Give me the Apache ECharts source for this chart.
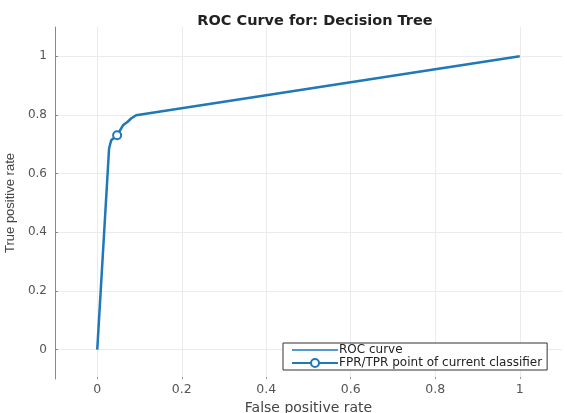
<!DOCTYPE html>
<html><head><meta charset="utf-8">
<script src="https://cdn.jsdelivr.net/npm/echarts@6/dist/echarts.min.js"></script>
<style>html,body{margin:0;padding:0;background:#fff}#c{width:567px;height:413px}</style>
</head><body><div id="c"></div>
<script>
const rocFpr = [0, 0.028, 0.033, 0.047, 0.061, 0.072, 0.080, 0.092, 1];
const rocTpr = [0, 0.686, 0.714, 0.731, 0.765, 0.777, 0.788, 0.799, 1];
const pointFpr = [0.047];
const pointTpr = [0.731];
const ticks = [0, 0.2, 0.4, 0.6, 0.8, 1];
const titleText = 'ROC Curve for: Decision Tree';
const xName = 'False positive rate';
const yName = 'True positive rate';
const seriesNames = ['ROC curve', 'FPR/TPR point of current classifier'];

const blue = '#1f78b8';
const font = 'Liberation Sans, Arial, sans-serif';
const wide = 'DejaVu Sans, sans-serif';
const chart = echarts.init(document.getElementById('c'), null, {renderer: 'canvas'});
const fmt = v => String(+(+v).toFixed(1));
chart.setOption({
  animation: false,
  title: {text: titleText, left: 310, top: 9, textAlign: 'center',
    textStyle: {fontFamily: wide, fontSize: 14.5, fontWeight: 'bold', color: '#222'}},
  grid: {left: 55, right: 5, top: 27, bottom: 34, containLabel: false, outerBoundsMode: 'none'},
  legend: {
    orient: 'vertical', left: 283, top: 343,
    backgroundColor: '#fff', borderColor: '#333', borderWidth: 1,
    padding: [1, 5, 1, 8], itemGap: 1, itemWidth: 46, itemHeight: 10,
    textStyle: {fontFamily: wide, fontSize: 12, lineHeight: 11, color: '#222', padding: [0, 0, 0, -4]},
    data: [
      {name: seriesNames[0], icon: 'path://M0,4.3 L46,4.3 L46,5.7 L0,5.7 Z'},
      {name: seriesNames[1]}
    ]
  },
  xAxis: {
    type: 'value', min: -0.1, max: 1.1,
    name: xName, nameLocation: 'middle', nameGap: 18,
    nameTextStyle: {fontFamily: wide, fontSize: 14, color: '#444'},
    axisLine: {show: false, onZero: false},
    axisTick: {show: true, inside: true, length: 2, lineStyle: {color: '#999'}, customValues: ticks},
    axisLabel: {fontFamily: wide, fontSize: 12.5, color: '#555', margin: 4, formatter: fmt, customValues: ticks},
    splitLine: {show: true, lineStyle: {color: '#ebebeb', width: 1}}
  },
  yAxis: {
    type: 'value', min: -0.1, max: 1.1,
    name: yName, nameLocation: 'middle', nameGap: 36, nameRotate: 90,
    nameTextStyle: {fontFamily: font, fontSize: 13, color: '#444'},
    axisLine: {show: true, onZero: false, lineStyle: {color: '#888', width: 1}},
    axisTick: {show: true, inside: true, length: 3, lineStyle: {color: '#888'}, customValues: ticks},
    axisLabel: {fontFamily: wide, fontSize: 12, color: '#555', margin: 8, formatter: fmt, customValues: ticks},
    splitLine: {show: true, lineStyle: {color: '#ebebeb', width: 1}}
  },
  series: [
    {name: seriesNames[0], type: 'line', symbol: 'none', color: blue,
      lineStyle: {color: blue, width: 2.5},
      data: rocFpr.map((x, i) => [x, rocTpr[i]])},
    {name: seriesNames[1], type: 'line', symbol: 'circle', symbolSize: 8, color: blue,
      itemStyle: {color: '#fff', borderColor: blue, borderWidth: 2},
      lineStyle: {color: blue, width: 2.5},
      data: pointFpr.map((x, i) => [x, pointTpr[i]])}
  ]
});
</script></body></html>
